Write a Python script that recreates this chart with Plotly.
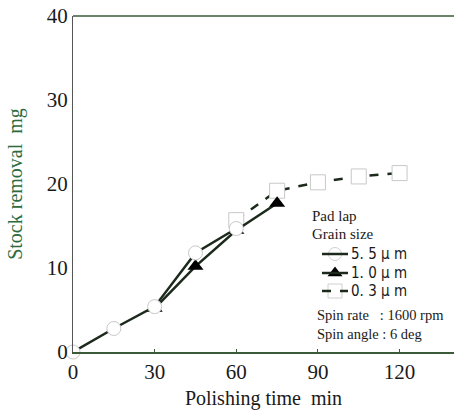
import plotly.graph_objects as go

# Data
t_55 = [0, 15, 30, 45, 60]
m_55 = [0, 2.8, 5.4, 11.8, 14.7]
t_10 = [30, 45, 60, 75]
m_10 = [5.2, 10.2, 14.5, 17.7]
t_03 = [60, 75, 90, 105, 120]
m_03 = [15.7, 19.2, 20.2, 20.9, 21.3]
x_ticks = [0, 30, 60, 90, 120]
y_ticks = [0, 10, 20, 30, 40]

LINE = "#1c2a1c"
SERIF = "Liberation Serif"
SANS = "DejaVu Sans Condensed, DejaVu Sans"

W, H = 454, 416
L, T, B = 73, 16, 64
PW, PH = W - L, H - T - B


def px_x(xp):
    return (xp - L) / PW


def px_y(yp):
    return (H - B - yp) / PH


fig = go.Figure()
fig.add_trace(go.Scatter(
    x=t_03, y=m_03, mode="lines+markers", name="0. 3 \u03bc m",
    line=dict(color=LINE, width=2.5, dash="dash"),
    marker=dict(symbol="square", size=15, color="white", line=dict(color="#c8c8c8", width=1)),
    cliponaxis=False, showlegend=False))
fig.add_trace(go.Scatter(
    x=t_10, y=m_10, mode="lines+markers", name="1. 0 \u03bc m",
    line=dict(color=LINE, width=2.5),
    marker=dict(symbol="triangle-up", size=14, color="black"),
    cliponaxis=False, showlegend=False))
fig.add_trace(go.Scatter(
    x=t_55, y=m_55, mode="lines+markers", name="5. 5 \u03bc m",
    line=dict(color=LINE, width=2.5),
    marker=dict(symbol="circle", size=14, color="white", line=dict(color="#c8c8c8", width=1)),
    cliponaxis=False, showlegend=False))

legend_rows = [("5. 5 \u03bc m", "circle", "solid", "white", 254),
               ("1. 0 \u03bc m", "triangle-up", "solid", "black", 273),
               ("0. 3 \u03bc m", "square", "dash", "white", 291)]

fig.update_layout(
    width=W, height=H,
    margin=dict(l=L, r=0, t=T, b=B),
    paper_bgcolor="white", plot_bgcolor="white",
    showlegend=False,
    xaxis=dict(range=[0, 140], tickvals=x_ticks, showgrid=False, zeroline=False, automargin=False,
               showline=True, linecolor="#3a5a3a", linewidth=1.5, mirror=False,
               ticks="inside", ticklen=3, tickcolor="#3a5a3a",
               tickfont=dict(family=SERIF, size=21, color="#1a1a1a"),
               title=dict(text="Polishing time  min", font=dict(family=SERIF, size=20, color="#1a1a1a"), standoff=8)),
    yaxis=dict(range=[0, 40], tickvals=y_ticks, showgrid=False, zeroline=False, automargin=False,
               showline=True, linecolor="#555555", linewidth=1.2,
               ticks="", tickfont=dict(family=SERIF, size=21, color="#1a1a1a"),
               title=dict(text="Stock removal  mg", font=dict(family=SERIF, size=20, color="#2e6b3c"), standoff=18)),
    xaxis2=dict(overlaying="x", range=[0, 1], visible=False, anchor="y2", automargin=False),
    yaxis2=dict(overlaying="y", range=[0, 1], visible=False, anchor="x2", automargin=False),
)
fig.add_shape(type="line", xref="paper", yref="paper", x0=0, x1=1, y0=1, y1=1,
              line=dict(color="#3a5a3a", width=1.5))

fig.add_annotation(xref="paper", yref="paper", x=px_x(310), y=px_y(216),
                   text="Pad lap", showarrow=False, xanchor="left", yanchor="middle",
                   font=dict(family=SERIF, size=15, color="#1a1a1a"))
fig.add_annotation(xref="paper", yref="paper", x=px_x(310), y=px_y(234),
                   text="Grain size", showarrow=False, xanchor="left", yanchor="middle",
                   font=dict(family=SERIF, size=15, color="#1a1a1a"))
for label, sym, dash, fill, ypx in legend_rows:
    yp = px_y(ypx)
    x0 = px_x(322)
    x1 = px_x(348)
    fig.add_shape(type="line", xref="paper", yref="paper", x0=x0, x1=x1, y0=yp, y1=yp,
                  line=dict(color=LINE, width=2.5, dash=dash))
    fig.add_trace(go.Scatter(x=[(x0 + x1) / 2], y=[yp], xaxis="x2", yaxis="y2", mode="markers",
                             marker=dict(symbol=sym, size=13 if sym != "square" else 14, color=fill,
                                         line=dict(color="#d0d0d0", width=1) if fill == "white" else dict(width=0)),
                             showlegend=False, hoverinfo="skip", cliponaxis=False))
    fig.add_annotation(xref="paper", yref="paper", x=x1 + 0.003, y=yp, text=label,
                       showarrow=False, xanchor="left", yanchor="middle",
                       font=dict(family=SANS, size=15, color="#1a1a1a"))

fig.add_annotation(xref="paper", yref="paper", x=px_x(315), y=px_y(315),
                   text="Spin rate   : 1600 rpm", showarrow=False, xanchor="left", yanchor="middle",
                   font=dict(family=SERIF, size=14.5, color="#1a1a1a"))
fig.add_annotation(xref="paper", yref="paper", x=px_x(315), y=px_y(334),
                   text="Spin angle : 6 deg", showarrow=False, xanchor="left", yanchor="middle",
                   font=dict(family=SERIF, size=14.5, color="#1a1a1a"))

fig.write_html("out.html", config={"displayModeBar": False},
               post_script="document.body.style.margin='0';")
